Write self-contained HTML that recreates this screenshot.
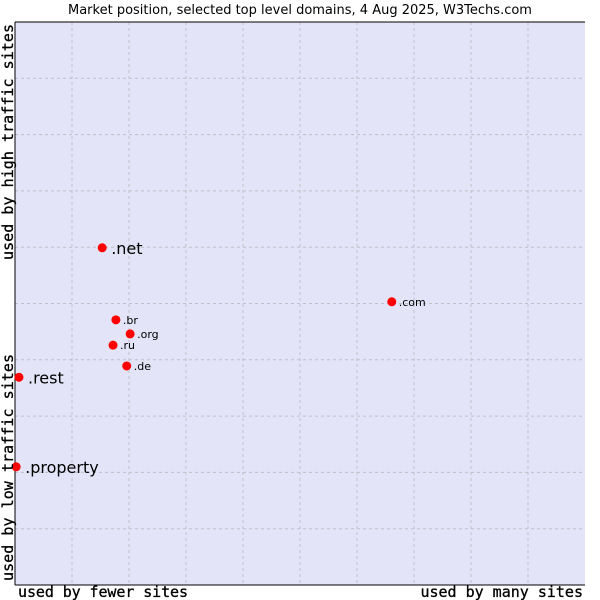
<!DOCTYPE html>
<html><head><meta charset="utf-8"><style>
body{margin:0;background:#fff;width:600px;height:600px;overflow:hidden}
svg{display:block}
</style></head><body>
<svg id="chart" width="600" height="600">
<text x="300" y="14" text-anchor="middle" font-family="DejaVu Sans, sans-serif" font-size="13" fill="#000">Market position, selected top level domains, 4 Aug 2025, W3Techs.com</text>
<rect x="15" y="22" width="570" height="563" fill="#e3e4f7"/>
<g id="grid"></g>
<line x1="15" y1="22" x2="585" y2="22" stroke="#000"/>
<line x1="15" y1="22" x2="15" y2="585" stroke="#000"/>
<line x1="15" y1="585" x2="585" y2="585" stroke="#000"/>
<g id="points"></g>
<text x="18" y="597" font-family="DejaVu Sans Mono, Liberation Mono, monospace" font-size="15" stroke="#000" stroke-width="0.3" textLength="170">used by fewer sites</text>
<text x="583" y="597" text-anchor="end" font-family="DejaVu Sans Mono, Liberation Mono, monospace" font-size="15" stroke="#000" stroke-width="0.3">used by many sites</text>
<text transform="translate(13,581) rotate(-90)" font-family="DejaVu Sans Mono, Liberation Mono, monospace" font-size="15" stroke="#000" stroke-width="0.3" textLength="227">used by low traffic sites</text>
<text transform="translate(13,260) rotate(-90)" font-family="DejaVu Sans Mono, Liberation Mono, monospace" font-size="15" stroke="#000" stroke-width="0.3" textLength="236">used by high traffic sites</text>
</svg>
<script>
const labels = [".net", ".com", ".br", ".org", ".ru", ".de", ".rest", ".property"];
const xValues = [1.53, 6.61, 1.77, 2.02, 1.72, 1.96, 0.07, 0.02];
const yValues = [5.99, 5.03, 4.71, 4.46, 4.26, 3.89, 3.69, 2.10];
const bigLabel = [true, false, false, false, false, false, true, true];
const NS = "http://www.w3.org/2000/svg";
const X0 = 15, X1 = 585, Y0 = 585, Y1 = 22;
const sx = v => X0 + v / 10 * (X1 - X0);
const sy = v => Y0 - v / 10 * (Y0 - Y1);
const grid = document.getElementById("grid");
for (let i = 1; i < 10; i++) {
  const v = document.createElementNS(NS, "line");
  v.setAttribute("x1", sx(i)); v.setAttribute("x2", sx(i));
  v.setAttribute("y1", Y1); v.setAttribute("y2", Y0);
  v.setAttribute("stroke", "#c0c0c8"); v.setAttribute("stroke-dasharray", "3,3");
  
  
  grid.appendChild(v);
  const h = document.createElementNS(NS, "line");
  h.setAttribute("x1", X0); h.setAttribute("x2", X1);
  h.setAttribute("y1", sy(i)); h.setAttribute("y2", sy(i));
  h.setAttribute("stroke", "#c0c0c8"); h.setAttribute("stroke-dasharray", "3,3");
  
  
  grid.appendChild(h);
}
const pts = document.getElementById("points");
labels.forEach((lab, i) => {
  const x = sx(xValues[i]), y = sy(yValues[i]);
  const p = document.createElementNS(NS, "circle");
  p.setAttribute("cx", x); p.setAttribute("cy", y); p.setAttribute("r", 4.5);
  p.setAttribute("fill", "#ff0000");
  
  
  pts.appendChild(p);
  const t = document.createElementNS(NS, "text");
  t.setAttribute("x", x + (bigLabel[i] ? 9 : 7));
  t.setAttribute("y", y + (bigLabel[i] ? 6 : 4));
  t.setAttribute("font-family", "DejaVu Sans, sans-serif");
  t.setAttribute("font-size", bigLabel[i] ? "16" : "11");
  t.textContent = lab;
  
  
  pts.appendChild(t);
});
</script>
</body></html>
